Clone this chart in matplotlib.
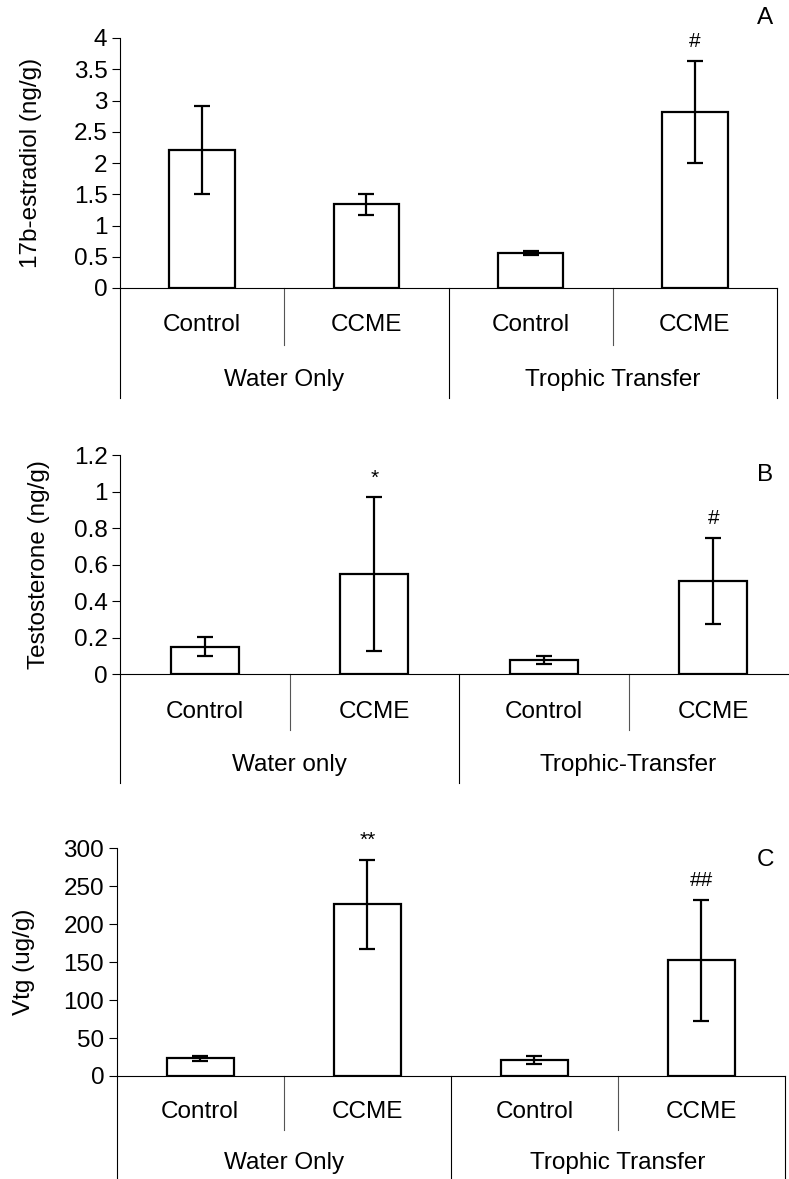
import matplotlib
matplotlib.use("Agg")
from matplotlib import pyplot as plt
from matplotlib.ticker import FuncFormatter, MultipleLocator

plt.rcParams['font.family'] = ['Liberation Sans', 'DejaVu Sans']

W, H = 789, 1179
FS = 17.5

treatments = ['Control', 'CCME', 'Control', 'CCME']

# panel A - 17b-estradiol
e2_mean = [2.21, 1.34, 0.565, 2.82]
e2_err = [0.70, 0.17, 0.03, 0.82]
e2_marks = ['', '', '', '#']
e2_groups = ['Water Only', 'Trophic Transfer']

# panel B - testosterone
t_mean = [0.152, 0.548, 0.078, 0.512]
t_err = [0.05, 0.42, 0.022, 0.235]
t_marks = ['', '*', '', '#']
t_groups = ['Water only', 'Trophic-Transfer']

# panel C - vitellogenin
vtg_mean = [23.5, 226, 21, 152.5]
vtg_err = [3.5, 59, 5.5, 80]
vtg_marks = ['', '**', '', '##']
vtg_groups = ['Water Only', 'Trophic Transfer']

fig = plt.figure(figsize=(W / 100, H / 100), dpi=100)


def panel(left, right, top, bottom, means, errs, marks, groups, ylabel, ymax, ystep,
          letter, letter_xy, sep_bot, grp_bot, cat_y, grp_y, ylab_x):
    ax = fig.add_axes([left / W, 1 - bottom / H, (right - left) / W, (bottom - top) / H])
    hpx = bottom - top
    x = [0.5, 1.5, 2.5, 3.5]
    ax.bar(x, means, width=0.4, color='white', edgecolor='black', linewidth=1.6, zorder=2)
    ax.errorbar(x, means, yerr=errs, fmt='none', ecolor='black', elinewidth=1.6,
                capsize=5.5, capthick=1.6, zorder=3)
    # significance marks sit ~19 px over the error bar caps
    for xi, m, e, s in zip(x, means, errs, marks):
        if s:
            ax.annotate(s, (xi, m + e), xytext=(0, 14), textcoords='offset points',
                        ha='center', va='center', fontsize=15)
    ax.set_xlim(0, 4)
    ax.set_ylim(0, ymax)
    ax.yaxis.set_major_locator(MultipleLocator(ystep))
    ax.yaxis.set_major_formatter(FuncFormatter(lambda v, p: '{:g}'.format(round(v, 3))))
    ax.tick_params(axis='y', direction='out', length=6, width=0.8, labelsize=FS, pad=3)
    ax.set_xticks([])
    for s in ['top', 'right']:
        ax.spines[s].set_visible(False)
    ax.spines['left'].set_linewidth(0.8)
    ax.spines['bottom'].set_linewidth(0.8)
    ax.set_ylabel(ylabel, fontsize=FS)
    # ylab_x is the right edge of the rotated label, in pixels
    ax.yaxis.set_label_coords((ylab_x - left) / (right - left), 0.5)

    tr = ax.get_xaxis_transform()
    y_sep = -(sep_bot - bottom) / hpx
    y_grp = -(grp_bot - bottom) / hpx
    for xs in [1, 3]:
        ax.plot([xs, xs], [0, y_sep], transform=tr, color='#555555', lw=0.8, clip_on=False)
    for xs in [0, 2, 4]:
        ax.plot([xs, xs], [0, y_grp], transform=tr, color='black', lw=0.8, clip_on=False)
    for xi, lab in zip(x, treatments):
        ax.text(xi, -(cat_y - bottom) / hpx, lab, transform=tr, ha='center', va='center',
                fontsize=FS)
    for xi, lab in zip([1, 3], groups):
        ax.text(xi, -(grp_y - bottom) / hpx, lab, transform=tr, ha='center', va='center',
                fontsize=FS)
    fig.text(letter_xy[0] / W, 1 - letter_xy[1] / H, letter, ha='center', va='center',
             fontsize=FS)
    return ax


panel(120, 777, 38, 288, e2_mean, e2_err, e2_marks, e2_groups, '17b-estradiol (ng/g)',
      4, 0.5, 'A', (765, 18), 345, 398, 325, 380, 42)
panel(120, 798, 455, 674.3, t_mean, t_err, t_marks, t_groups, 'Testosterone (ng/g)',
      1.2, 0.2, 'B', (765, 475), 730, 783, 712, 765, 50)
panel(116.7, 785, 848.3, 1076, vtg_mean, vtg_err, vtg_marks, vtg_groups, 'Vtg (ug/g)',
      300, 50, 'C', (765, 860), 1130, 1179, 1112, 1163, 35)

fig.savefig('out.png', dpi=100)
